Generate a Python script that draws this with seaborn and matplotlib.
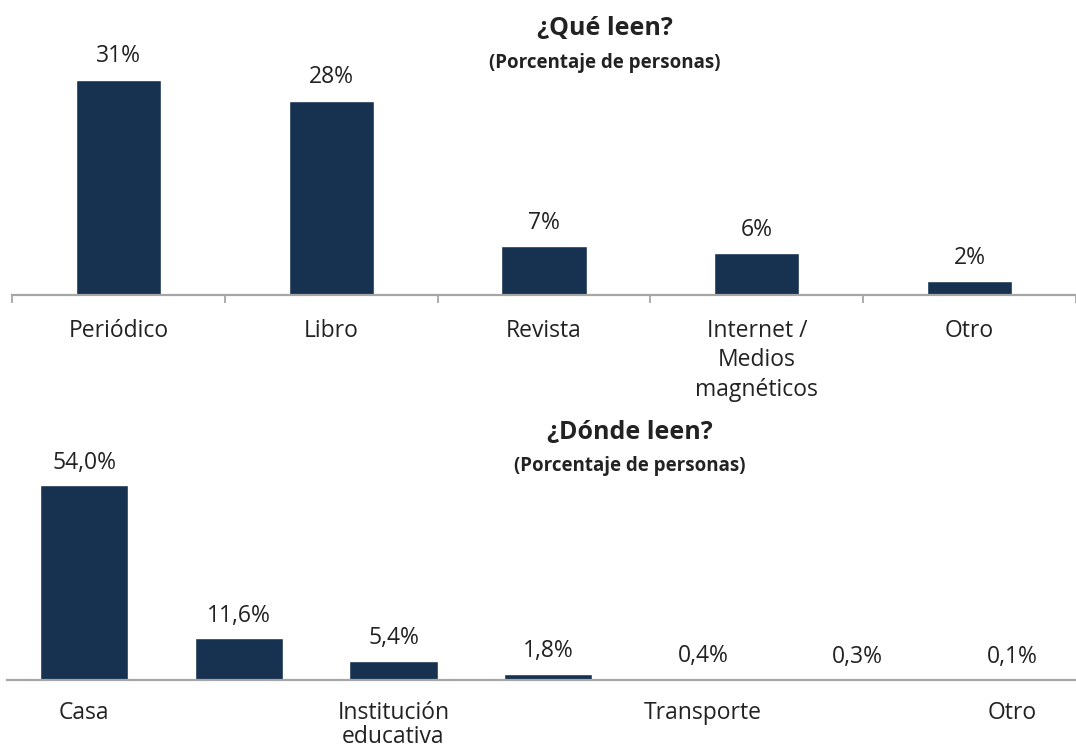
import matplotlib
matplotlib.use("Agg")
import matplotlib.pyplot as plt
import seaborn as sns
import pandas as pd
import numpy as np

# ---- data ----
que_cats = ["Periódico", "Libro", "Revista", "Internet /\nMedios\nmagnéticos", "Otro"]
que_vals = [31, 28, 7, 6, 2]
que_labels = ["31%", "28%", "7%", "6%", "2%"]

donde_cats = ["Casa", "Lugar 2", "Institución\neducativa", "Lugar 4", "Transporte", "Lugar 6", "Otro"]
donde_ticklabels = ["Casa", "", "Institución\neducativa", "", "Transporte", "", "Otro"]
donde_vals = [54.0, 11.6, 5.4, 1.8, 0.4, 0.3, 0.1]
donde_labels = ["54,0%", "11,6%", "5,4%", "1,8%", "0,4%", "0,3%", "0,1%"]

title1 = "¿Qué leen?"
title2 = "¿Dónde leen?"
subtitle = "(Porcentaje de personas)"

BAR = "#163250"
GRID = "#a6a6a6"
TXT = "#222222"
FS = 16.5

sns.set_theme(style="white")
plt.rcParams["font.family"] = ["Open Sans", "DejaVu Sans"]

W, H = 1076, 753
fig = plt.figure(figsize=(W / 100, H / 100), dpi=100)

def px(x0, ytop, w, h):
    return [x0 / W, 1 - (ytop + h) / H, w / W, h / H]

# ---- top chart ----
ax1 = fig.add_axes(px(12, 295 - 277.6, 1064, 277.6))
df1 = pd.DataFrame({"cat": que_cats, "val": que_vals})
sns.barplot(data=df1, x="cat", y="val", order=que_cats, color=BAR, width=0.40,
            saturation=1, ax=ax1)
ax1.set_xlim(-0.5, 4.5)
ax1.set_ylim(0, 40)
for i, (v, lab) in enumerate(zip(que_vals, que_labels)):
    ax1.annotate(lab, (i, v), xytext=(0, 17), textcoords="offset points",
                 ha="center", va="center", fontsize=FS, color=TXT)
ax1.set_xlabel("")
ax1.set_ylabel("")
ax1.set_yticks([])
ax1.set_xticks(range(len(que_cats)))
ax1.set_xticklabels(que_cats, fontsize=FS, color=TXT, linespacing=1.32, va="top")
ax1.set_xticks(np.arange(-0.5, 5.0, 1.0), minor=True)
ax1.tick_params(axis="x", which="major", length=0, pad=17, bottom=True)
ax1.tick_params(axis="x", which="minor", length=6, width=1.3, color=GRID,
                direction="out", bottom=True)
for s in ["top", "right", "left"]:
    ax1.spines[s].set_visible(False)
ax1.spines["bottom"].set_color(GRID)
ax1.spines["bottom"].set_linewidth(1.6)

fig.text(605 / W, 1 - 28 / H, title1, ha="center", va="center", fontsize=18,
         fontweight="bold", color=TXT)
fig.text(605 / W, 1 - 63 / H, subtitle, ha="center", va="center", fontsize=13.5,
         fontweight="bold", color=TXT)

# ---- bottom chart ----
ax2 = fig.add_axes(px(6.7, 680 - 216.6, 1083, 216.6))
df2 = pd.DataFrame({"cat": donde_cats, "val": donde_vals})
sns.barplot(data=df2, x="cat", y="val", order=donde_cats, color=BAR, width=0.57,
            saturation=1, ax=ax2)
ax2.set_xlim(-0.5, 6.5)
ax2.set_ylim(0, 60)
for i, (v, lab) in enumerate(zip(donde_vals, donde_labels)):
    ax2.annotate(lab, (i, v), xytext=(0, 16), textcoords="offset points",
                 ha="center", va="center", fontsize=FS, color=TXT)
ax2.set_xlabel("")
ax2.set_ylabel("")
ax2.set_yticks([])
ax2.set_xticks(range(len(donde_cats)))
ax2.set_xticklabels(donde_ticklabels, fontsize=FS, color=TXT, linespacing=1.02, va="top")
ax2.tick_params(axis="x", which="major", length=0, pad=15)
for s in ["top", "right", "left"]:
    ax2.spines[s].set_visible(False)
ax2.spines["bottom"].set_color(GRID)
ax2.spines["bottom"].set_linewidth(1.6)

fig.text(630 / W, 1 - 432 / H, title2, ha="center", va="center", fontsize=18,
         fontweight="bold", color=TXT)
fig.text(630 / W, 1 - 466 / H, subtitle, ha="center", va="center", fontsize=13.5,
         fontweight="bold", color=TXT)

fig.savefig("out.png", dpi=100, facecolor="white")
